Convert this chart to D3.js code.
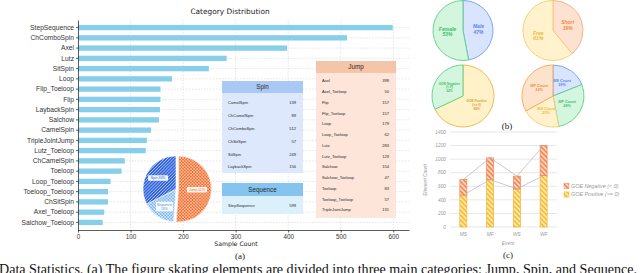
<!doctype html>
<html lang="en">
<head>
<meta charset="utf-8">
<title>Data Statistics</title>
<style>
  body { margin: 0; background: #fff; }
  svg { display: block; font-family: "DejaVu Sans", sans-serif; }
  .grid line { stroke: #d4d4d4; stroke-width: 0.6; stroke-dasharray: 1.5,1.5; }
  .axisA path, .axisA line { stroke: #333; stroke-width: 0.8; }
  .axisA text { fill: #333; }
  .tbl text { font-family: "Liberation Sans", Arial, sans-serif; fill: #2a2a2a; }
  .c-text { font-family: "Liberation Sans", Arial, sans-serif; font-style: italic; fill: #9a9a9a; }
</style>
</head>
<body>
<div id="fig"></div>
<script src="https://cdn.jsdelivr.net/npm/d3@7"></script>
<script>
// ---- (a) category counts, sorted as in the bar chart
var categories = ["StepSequence", "ChComboSpin", "Axel", "Lutz", "SitSpin", "Loop", "Flip_Toeloop",
  "Flip", "LaybackSpin", "Salchow", "CamelSpin", "TripleJointJump", "Lutz_Toeloop", "ChCamelSpin",
  "Toeloop", "Loop_Toeloop", "Toeloop_Toeloop", "ChSitSpin", "Axel_Toeloop", "Salchow_Toeloop"];
var counts = [599, 512, 398, 283, 249, 179, 157, 157, 156, 154, 139, 131, 129, 89, 83, 62, 57, 57, 50, 47];
var xTicksA = [0, 100, 200, 300, 400, 500, 600];

// table contents (values looked up from counts)
var spinNames = ["CamelSpin", "ChCamelSpin", "ChComboSpin", "ChSitSpin", "SitSpin", "LaybackSpin"];
var sequenceNames = ["StepSequence"];
var jumpNames = ["Axel", "Axel_Toeloop", "Flip", "Flip_Toeloop", "Loop", "Loop_Toeloop", "Lutz",
  "Lutz_Toeloop", "Salchow", "Salchow_Toeloop", "Toeloop", "Toeloop_Toeloop", "TripleJointJump"];
var groupNames = ["Jump", "Sequence", "Spin"];

// ---- (b) pies
var genderNames = ["Male", "Female"];
var genderShares = [47, 53];
var programNames = ["Short", "Free"];
var programShares = [39, 61];
var goeNames = ["GOE Positive", "GOE Negative"];
var goeRanges = ["(>= 0)", "(< 0)"];
var goeShares = [68, 32];
var eventNames = ["MS", "MF", "WS", "WF"];
var eventShares = [19, 28, 20, 33];

// ---- (c) stacked bars
var goePositive = [470, 700, 560, 760];
var goeNegative = [230, 320, 190, 440];
var yTicksC = [0, 200, 400, 600, 800, 1000, 1200, 1400];

var W = 640, H = 273;
var svg = d3.select("#fig").append("svg").attr("width", W).attr("height", H);
var defs = svg.append("defs");

function hatch(id, bg, fg, size, angle, w, cross) {
  var p = defs.append("pattern").attr("id", id)
    .attr("patternUnits", "userSpaceOnUse")
    .attr("width", size).attr("height", size)
    .attr("patternTransform", "rotate(" + angle + ")");
  p.append("rect").attr("width", size).attr("height", size).attr("fill", bg);
  p.append("line").attr("x1", size / 2).attr("x2", size / 2).attr("y1", 0).attr("y2", size)
    .attr("stroke", fg).attr("stroke-width", w);
  if (cross) {
    p.append("line").attr("y1", size / 2).attr("y2", size / 2).attr("x1", 0).attr("x2", size)
      .attr("stroke", fg).attr("stroke-width", w);
  }
}
hatch("hJump", "#f46a28", "#fff", 2.2, 45, 0.35, true);
hatch("hSpin", "#2f62dc", "#fff", 2.2, 45, 0.45, false);
hatch("hSeq", "#7db6f2", "#fff", 2.2, 45, 0.4, true);
hatch("hPos", "#f9bf30", "#fff", 3.4, -45, 1.1, false);
hatch("hNeg", "#f58a55", "#fff", 3.4, -45, 1.1, false);

var countOf = {};
categories.forEach(function(c, i) { countOf[c] = counts[i]; });

// ================= (a) =================
var xA = d3.scaleLinear().domain([0, 630]).range([78, 409]);
var yA = d3.scaleBand().domain(categories).range([20, 230]).padding(0.48);
var a = svg.append("g");

var grid = a.append("g").attr("class", "grid");
grid.selectAll(".gv").data(xTicksA).join("line").attr("class", "gv")
  .attr("x1", function(d) { return xA(d); }).attr("x2", function(d) { return xA(d); })
  .attr("y1", 20).attr("y2", 230);
grid.selectAll(".gh").data(categories).join("line").attr("class", "gh")
  .attr("x1", xA(0)).attr("x2", 409)
  .attr("y1", function(d) { return yA(d) + yA.bandwidth() / 2; })
  .attr("y2", function(d) { return yA(d) + yA.bandwidth() / 2; });

a.selectAll(".bar").data(categories).join("rect").attr("class", "bar")
  .attr("x", xA(0)).attr("y", function(d) { return yA(d); })
  .attr("width", function(d, i) { return xA(counts[i]) - xA(0); })
  .attr("height", yA.bandwidth())
  .attr("fill", "#87ceeb");

a.append("g").attr("class", "axisA").attr("transform", "translate(0,230)")
  .call(d3.axisBottom(xA).tickValues(xTicksA).tickSize(2.5).tickSizeOuter(0).tickPadding(2))
  .selectAll("text").style("font-size", "6.3px");
a.append("g").attr("class", "axisA").attr("transform", "translate(78,0)")
  .call(d3.axisLeft(yA).tickSize(2).tickSizeOuter(0).tickPadding(2))
  .selectAll("text").style("font-size", "6.7px");

a.append("text").attr("x", 230).attr("y", 14).attr("text-anchor", "middle")
  .style("font-size", "7.4px").attr("fill", "#222").text("Category Distribution");
a.append("text").attr("x", 236).attr("y", 246).attr("text-anchor", "middle")
  .style("font-size", "6.2px").attr("fill", "#222").text("Sample Count");

// tables
function drawTable(x0, x1, hTop, hBot, bBot, title, names, r0, r1, headFill, bodyFill) {
  var g = a.append("g").attr("class", "tbl");
  g.append("rect").attr("x", x0).attr("y", hBot).attr("width", x1 - x0).attr("height", bBot - hBot)
    .attr("fill", bodyFill);
  g.append("rect").attr("x", x0).attr("y", hTop).attr("width", x1 - x0).attr("height", hBot - hTop)
    .attr("fill", headFill);
  g.append("text").attr("x", (x0 + x1) / 2).attr("y", (hTop + hBot) / 2)
    .attr("dy", "0.35em").attr("text-anchor", "middle").style("font-size", "6.3px")
    .text(title);
  var ry = d3.scalePoint().domain(names).range([r0, r1]);
  g.selectAll(".nm").data(names).join("text").attr("class", "nm")
    .attr("x", x0 + 6).attr("y", function(d) { return ry(d); }).attr("dy", "0.35em")
    .style("font-size", "4.1px").text(function(d) { return d; });
  g.selectAll(".vl").data(names).join("text").attr("class", "vl")
    .attr("x", x1 - 7).attr("y", function(d) { return ry(d); }).attr("dy", "0.35em")
    .attr("text-anchor", "end").style("font-size", "4.1px")
    .text(function(d) { return countOf[d]; });
}
drawTable(222, 303, 81, 93, 173, "Spin", spinNames, 103, 167, "#a9c8f3", "#dde8fc");
drawTable(222, 303, 183, 196, 214, "Sequence", sequenceNames, 205.5, 205.5, "#84c4ee", "#dcf0fc");
drawTable(316, 396, 61, 73, 218, "Jump", jumpNames, 81, 210, "#f6c4a8", "#fde5d9");

// pie of groups
var groupTotals = [jumpNames, sequenceNames, spinNames].map(function(list) {
  return d3.sum(list, function(n) { return countOf[n]; });
});
var allTotal = d3.sum(groupTotals);
var groupFills = ["url(#hJump)", "url(#hSeq)", "url(#hSpin)"];
var groupText = ["#f06020", "#4a94e4", "#2f62dc"];
var pieA = d3.pie().sort(null)(groupTotals);
var arcA = d3.arc().innerRadius(0).outerRadius(33);
var labA = d3.arc().innerRadius(21).outerRadius(21);
var pa = a.append("g").attr("transform", "translate(176,189)");
pa.selectAll("path").data(pieA).join("path")
  .attr("transform", function(d, i) {
    if (i !== 0) return null;
    var m = (d.startAngle + d.endAngle) / 2;
    return "translate(" + (2.5 * Math.sin(m)) + "," + (-2.5 * Math.cos(m)) + ")";
  })
  .attr("d", arcA).attr("fill", function(d, i) { return groupFills[i]; })
  .attr("stroke", "#fff").attr("stroke-width", 0.6);
pa.selectAll("g.lab").data(pieA).join("g").attr("class", "lab")
  .attr("transform", function(d) { return "translate(" + labA.centroid(d) + ")"; })
  .each(function(d, i) {
    var pct = Math.round(groupTotals[i] / allTotal * 100) + "%";
    var lines = groupNames[i] === "Sequence" ? [groupNames[i], pct] : [groupNames[i] + " " + pct];
    var g = d3.select(this);
    var w = lines.length > 1 ? 17 : 20, h = lines.length * 4 + 1.5;
    g.append("rect").attr("x", -w / 2).attr("y", -h / 2).attr("width", w).attr("height", h)
      .attr("rx", 0.8).attr("fill", "#fff").attr("opacity", 0.92);
    g.selectAll("text").data(lines).join("text")
      .attr("y", function(t, k) { return (k - (lines.length - 1) / 2) * 4; })
      .attr("dy", "0.35em").attr("text-anchor", "middle")
      .style("font-family", "Liberation Sans, Arial, sans-serif")
      .style("font-size", "3.4px").attr("fill", groupText[i]).text(function(t) { return t; });
  });

a.append("text").attr("x", 240).attr("y", 259).attr("text-anchor", "middle")
  .style("font-family", "Liberation Serif, serif").style("font-size", "9px").attr("fill", "#222")
  .text("(a)");

// ================= (b) =================
var green = {fill: "#d4f5de", stroke: "#5ccf86", text: "#3fbf6c"};
var blue = {fill: "#d9e4fe", stroke: "#6f9ef3", text: "#5a86ec"};
var orange = {fill: "#fde2d1", stroke: "#f6ac7f", text: "#f08a40"};
var yellow = {fill: "#fff2cc", stroke: "#f4cc6c", text: "#efb838"};

function drawPie(cx, cy, r, shares, labelLines, palette, fontSize, lineGap) {
  var g = svg.append("g").attr("transform", "translate(" + cx + "," + cy + ")");
  var arcs = d3.pie().sort(null)(shares);
  var arc = d3.arc().innerRadius(0).outerRadius(r);
  var lab = d3.arc().innerRadius(r * 0.52).outerRadius(r * 0.52);
  g.selectAll("path").data(arcs).join("path").attr("d", arc)
    .attr("fill", function(d, i) { return palette[i].fill; })
    .attr("stroke", function(d, i) { return palette[i].stroke; })
    .attr("stroke-width", 0.9);
  arcs.forEach(function(d, i) {
    var c = lab.centroid(d), lines = labelLines[i];
    g.selectAll(null).data(lines).enter().append("text")
      .attr("x", c[0]).attr("y", function(t, k) { return c[1] + (k - (lines.length - 1) / 2) * lineGap; })
      .attr("dy", "0.35em").attr("text-anchor", "middle")
      .style("font-family", "Liberation Sans, Arial, sans-serif").style("font-style", "italic")
      .style("font-weight", "bold").style("font-size", fontSize + "px")
      .attr("fill", palette[i].text).text(function(t) { return t; });
  });
}
drawPie(463, 30.5, 30, genderShares,
  genderNames.map(function(n, i) { return [n, genderShares[i] + "%"]; }), [blue, green], 5, 5.5);
drawPie(553, 30.5, 30, programShares,
  programNames.map(function(n, i) { return [n, programShares[i] + "%"]; }), [orange, yellow], 5, 5.5);
drawPie(463, 96, 31, goeShares,
  goeNames.map(function(n, i) { return [n, goeRanges[i], goeShares[i] + "%"]; }),
  [{fill: "#fff1c8", stroke: "#e9b44c", text: "#d9a030"}, green], 3.2, 3.8);
drawPie(553, 96, 31, eventShares,
  eventNames.map(function(n, i) { return [n + " Count", eventShares[i] + "%"]; }),
  [blue, green, yellow, {fill: "#fde3cc", stroke: "#f4a656", text: "#ef8d35"}], 3.8, 4.6);

svg.append("text").attr("x", 507).attr("y", 129).attr("text-anchor", "middle")
  .style("font-family", "Liberation Serif, serif").style("font-size", "9px").attr("fill", "#222")
  .text("(b)");

// ================= (c) =================
var c = svg.append("g");
var xC = d3.scalePoint().domain(eventNames).range([450, 557]).padding(0.5);
var yC = d3.scaleLinear().domain([0, 1400]).range([227, 132]);
var bw = 7;

c.selectAll(".gc").data(yTicksC).join("line").attr("class", "gc")
  .attr("x1", 450).attr("x2", 557)
  .attr("y1", function(d) { return yC(d); }).attr("y2", function(d) { return yC(d); })
  .attr("stroke", "#dcdcdc").attr("stroke-width", 0.7);
c.selectAll(".yt").data(yTicksC).join("text").attr("class", "yt c-text")
  .attr("x", 446).attr("y", function(d) { return yC(d); }).attr("dy", "0.35em")
  .attr("text-anchor", "end").style("font-size", "4.8px").text(function(d) { return d; });
c.selectAll(".xt").data(eventNames).join("text").attr("class", "xt c-text")
  .attr("x", function(d) { return xC(d); }).attr("y", 234).attr("dy", "0.35em")
  .attr("text-anchor", "middle").style("font-size", "4.8px").text(function(d) { return d; });

c.selectAll(".bp").data(eventNames).join("rect").attr("class", "bp")
  .attr("x", function(d) { return xC(d) - bw / 2; }).attr("width", bw)
  .attr("y", function(d, i) { return yC(goePositive[i]); })
  .attr("height", function(d, i) { return yC(0) - yC(goePositive[i]); })
  .attr("fill", "url(#hPos)").attr("stroke", "#f3b52a").attr("stroke-width", 0.7);
c.selectAll(".bn").data(eventNames).join("rect").attr("class", "bn")
  .attr("x", function(d) { return xC(d) - bw / 2; }).attr("width", bw)
  .attr("y", function(d, i) { return yC(goePositive[i] + goeNegative[i]); })
  .attr("height", function(d, i) { return yC(goePositive[i]) - yC(goePositive[i] + goeNegative[i]); })
  .attr("fill", "url(#hNeg)").attr("stroke", "#f28550").attr("stroke-width", 0.7);

var lineC = d3.line().x(function(d) { return xC(d[0]); }).y(function(d) { return yC(d[1]); });
c.append("path")
  .attr("d", lineC(eventNames.map(function(n, i) { return [n, goePositive[i] + goeNegative[i]]; })))
  .attr("fill", "none").attr("stroke", "#b5b5b5").attr("stroke-width", 0.7);
c.append("path")
  .attr("d", lineC(eventNames.map(function(n, i) { return [n, goePositive[i]]; })))
  .attr("fill", "none").attr("stroke", "#b5b5b5").attr("stroke-width", 0.7);

c.append("text").attr("class", "c-text").attr("transform", "translate(427,180) rotate(-90)")
  .attr("text-anchor", "middle").style("font-size", "4.8px").attr("fill", "#777").text("Element Count");
c.append("text").attr("class", "c-text").attr("x", 508).attr("y", 245)
  .attr("text-anchor", "middle").style("font-size", "4.8px").text("Event");

var legC = [["url(#hNeg)", "#f28550", goeNames[1] + " " + goeRanges[1]],
            ["url(#hPos)", "#f3b52a", goeNames[0] + " " + goeRanges[0]]];
legC.forEach(function(l, i) {
  var y = 186 + i * 8.5;
  c.append("rect").attr("x", 564).attr("y", y - 2.6).attr("width", 5).attr("height", 5.2)
    .attr("fill", l[0]).attr("stroke", l[1]).attr("stroke-width", 0.5);
  c.append("text").attr("class", "c-text").attr("x", 571).attr("y", y).attr("dy", "0.35em")
    .style("font-size", "5.4px").text(l[2]);
});

svg.append("text").attr("x", 508).attr("y", 258).attr("text-anchor", "middle")
  .style("font-family", "Liberation Serif, serif").style("font-size", "9px").attr("fill", "#222")
  .text("(c)");

// caption line, cut by the bottom edge as in the source figure
svg.append("text").attr("x", -1).attr("y", 273.5)
  .attr("textLength", 638).attr("lengthAdjust", "spacingAndGlyphs")
  .style("font-family", "Liberation Serif, Times New Roman, serif").style("font-size", "14px")
  .attr("fill", "#111")
  .text("Data Statistics. (a) The figure skating elements are divided into three main categories: Jump, Spin, and Sequence.");
</script>
</body>
</html>
